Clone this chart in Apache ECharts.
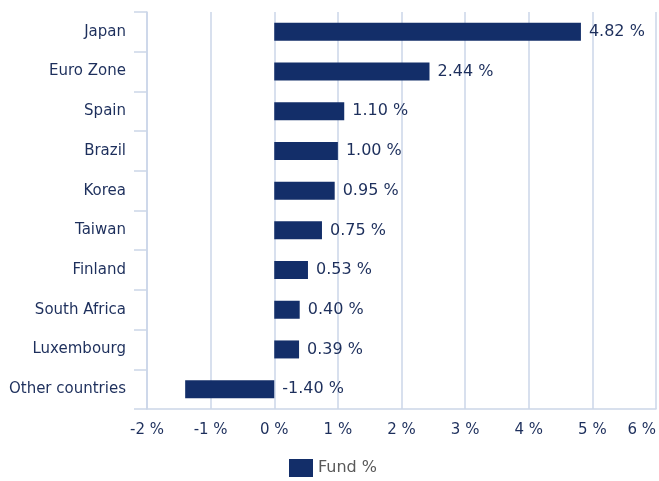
<!DOCTYPE html>
<html>
<head>
<meta charset="utf-8">
<script src="https://cdn.jsdelivr.net/npm/echarts@6/dist/echarts.min.js"></script>
<style>
  html, body { margin: 0; padding: 0; background: #fff; overflow: hidden; }
  #chart { width: 100vw; height: 100vh; }
</style>
</head>
<body>
<div id="chart"></div>
<script>
const countries = ['Japan', 'Euro Zone', 'Spain', 'Brazil', 'Korea', 'Taiwan', 'Finland', 'South Africa', 'Luxembourg', 'Other countries'];
const fundPct = [4.82, 2.44, 1.10, 1.00, 0.95, 0.75, 0.53, 0.40, 0.39, -1.40];
const seriesName = 'Fund %';

const navy = '#132e69';
const textNavy = '#1d2f5c';
const gridBlue = '#cbd6e8';
const font = '"DejaVu Sans", Verdana, sans-serif';

const chart = echarts.init(document.getElementById('chart'));
chart.setOption({
  animation: false,
  textStyle: {fontFamily: font},
  grid: {left: 147, right: 3, top: 12, bottom: 72, outerBoundsMode: 'none', containLabel: false},
  legend: {
    data: [seriesName],
    left: 284, top: 454,
    icon: 'rect', itemWidth: 24, itemHeight: 18,
    textStyle: {color: '#595959', fontSize: 16, fontFamily: font}
  },
  xAxis: {
    type: 'value',
    min: -2, max: 6, interval: 1,
    axisLine: {show: true, lineStyle: {color: gridBlue, width: 1.5}},
    axisTick: {show: false},
    splitLine: {show: true, lineStyle: {color: gridBlue, width: 1.5}},
    axisLabel: {
      color: textNavy, fontSize: 15, fontFamily: font, margin: 14,
      alignMaxLabel: 'right',
      formatter: v => v + ' %'
    }
  },
  yAxis: {
    type: 'category',
    data: countries,
    inverse: true,
    axisLine: {show: true, onZero: false, lineStyle: {color: gridBlue, width: 1.5}},
    axisTick: {show: true, length: 13, lineStyle: {color: gridBlue, width: 1.5}},
    axisLabel: {color: textNavy, fontSize: 15, fontFamily: font, margin: 21}
  },
  series: [{
    name: seriesName,
    type: 'bar',
    data: fundPct,
    barWidth: 18,
    itemStyle: {color: navy},
    label: {
      show: true,
      position: 'right',
      distance: 8,
      color: textNavy,
      fontSize: 16,
      fontFamily: font,
      formatter: p => p.value.toFixed(2) + ' %'
    }
  }]
});
</script>
</body>
</html>
